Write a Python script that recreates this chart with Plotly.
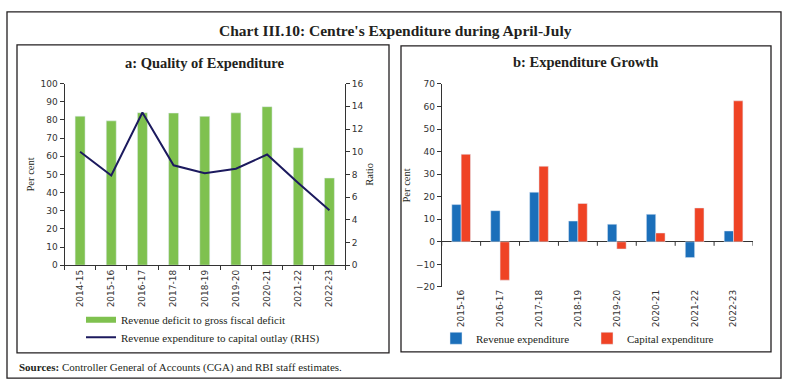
import plotly.graph_objects as go

W, H = 789, 391

# ---- data ----
years_a = ["2014-15", "2015-16", "2016-17", "2017-18", "2018-19",
           "2019-20", "2020-21", "2021-22", "2022-23"]
rev_def_to_gfd = [82.1, 79.5, 84.0, 83.8, 82.0, 83.9, 87.3, 64.7, 48.0]
rev_exp_to_cap = [10.0, 7.9, 13.45, 8.8, 8.1, 8.5, 9.75, 7.25, 4.85]

years_b = ["2015-16", "2016-17", "2017-18", "2018-19",
           "2019-20", "2020-21", "2021-22", "2022-23"]
rev_exp_growth = [16.5, 13.8, 22.0, 9.2, 7.8, 12.2, -7.0, 4.8]
cap_exp_growth = [38.8, -17.0, 33.5, 17.0, -3.2, 3.9, 15.0, 62.5]

GREEN = "#7fc14f"
NAVY = "#1c1a5e"
BLUE = "#1b6fba"
RED = "#ef4325"
INK = "#231f20"
TICKFONT = dict(family="DejaVu Sans", size=9, color="#333333")
SERIF = "Liberation Serif"


def px_x(p):
    return p / W


def px_y(p):
    return 1 - p / H


fig = go.Figure()

# panel a
fig.add_trace(go.Bar(x=years_a, y=rev_def_to_gfd, marker_color=GREEN,
                     width=0.32, xaxis="x", yaxis="y", showlegend=False,
                     name="Revenue deficit to gross fiscal deficit"))
fig.add_trace(go.Scatter(x=years_a, y=rev_exp_to_cap, mode="lines",
                         line=dict(color=NAVY, width=2), xaxis="x", yaxis="y2",
                         showlegend=False,
                         name="Revenue expenditure to capital outlay (RHS)"))
# legend proxies for panel a
fig.add_trace(go.Scatter(x=[None], y=[None], mode="lines",
                         line=dict(color=GREEN, width=6), xaxis="x", yaxis="y",
                         name="Revenue deficit to gross fiscal deficit",
                         legend="legend"))
fig.add_trace(go.Scatter(x=[None], y=[None], mode="lines",
                         line=dict(color=NAVY, width=2), xaxis="x", yaxis="y",
                         name="Revenue expenditure to capital outlay (RHS)",
                         legend="legend3"))

# panel b
fig.add_trace(go.Bar(x=years_b, y=rev_exp_growth, marker_color=BLUE,
                     width=0.24, offset=-0.24,
                     xaxis="x3", yaxis="y3", name="Revenue expenditure",
                     legend="legend2"))
fig.add_trace(go.Bar(x=years_b, y=cap_exp_growth, marker_color=RED,
                     width=0.24, offset=0.0,
                     xaxis="x3", yaxis="y3", name="Capital expenditure",
                     legend="legend2"))

shapes = []
# borders
for (x0, y0, x1, y1) in [(7, 7, 781, 383), (17, 41, 389, 357), (401, 42, 771, 356)]:
    shapes.append(dict(type="rect", xref="paper", yref="paper",
                       x0=px_x(x0), x1=px_x(x1), y0=px_y(y0), y1=px_y(y1),
                       line=dict(color=INK, width=1.3)))
# tick marks on the zero line of panel b
for i in range(len(years_b) + 1):
    shapes.append(dict(type="line", xref="x3", yref="y3",
                       x0=i - 0.5, x1=i - 0.5, y0=0, y1=-4,
                       ysizemode="pixel", yanchor=0,
                       line=dict(color="#333333", width=1)))

annotations = [
    dict(text="<b>Chart III.10: Centre's Expenditure during April-July</b>",
         x=px_x(396), y=px_y(26), xref="paper", yref="paper", showarrow=False,
         font=dict(family=SERIF, size=15.5, color=INK),
         xanchor="center", yanchor="middle"),
    dict(text="<b>a: Quality of Expenditure</b>",
         x=px_x(204), y=px_y(60), xref="paper", yref="paper", showarrow=False,
         font=dict(family=SERIF, size=14.5, color=INK),
         xanchor="center", yanchor="middle"),
    dict(text="<b>b: Expenditure Growth</b>",
         x=px_x(585), y=px_y(59), xref="paper", yref="paper", showarrow=False,
         font=dict(family=SERIF, size=14.5, color=INK),
         xanchor="center", yanchor="middle"),
    dict(text="<b>Sources:</b> Controller General of Accounts (CGA) and RBI staff estimates.",
         x=px_x(17), y=px_y(372), xref="paper", yref="paper", showarrow=False,
         font=dict(family=SERIF, size=11, color=INK),
         xanchor="left", yanchor="middle"),
]

axis_common = dict(showline=True, linecolor="#333333", linewidth=1,
                   showgrid=False, zeroline=False, ticks="outside", ticklen=4,
                   tickcolor="#333333", tickfont=TICKFONT)
title_font = dict(family=SERIF, size=10.5, color=INK)
legend_font = dict(family=SERIF, size=11, color=INK)

fig.update_layout(
    width=W, height=H, margin=dict(l=0, r=0, t=0, b=0),
    paper_bgcolor="white", plot_bgcolor="white",
    barmode="overlay",
    shapes=shapes, annotations=annotations,
    xaxis=dict(axis_common, domain=[px_x(64.5), px_x(345)], anchor="y",
               type="category", range=[-0.5, 8.5], tickson="boundaries",
               tickangle=-90),
    yaxis=dict(axis_common, domain=[px_y(267), px_y(80.7)], anchor="x",
               range=[0, 100], dtick=10,
               title=dict(text="Per cent", standoff=3, font=title_font)),
    yaxis2=dict(axis_common, overlaying="y", side="right", anchor="x",
                range=[0, 16], dtick=2,
                title=dict(text="Ratio", standoff=3, font=title_font)),
    xaxis3=dict(axis_common, domain=[px_x(441.7), px_x(753)], anchor="y3",
                type="category", range=[-0.5, 7.5], showline=False, ticks="",
                tickangle=-90),
    yaxis3=dict(axis_common, domain=[px_y(289.3), px_y(81)], anchor="x3",
                range=[-20, 70], dtick=10, zeroline=True,
                zerolinecolor="#333333", zerolinewidth=1,
                title=dict(text="Per cent", standoff=3, font=title_font)),
    legend=dict(x=px_x(81), y=px_y(323), xanchor="left", yanchor="middle",
                orientation="v", bgcolor="rgba(0,0,0,0)", font=legend_font,
                itemwidth=30),
    legend3=dict(x=px_x(81), y=px_y(341), xanchor="left", yanchor="middle",
                 orientation="v", bgcolor="rgba(0,0,0,0)", font=legend_font,
                 itemwidth=30),
    legend2=dict(x=px_x(436), y=px_y(342), xanchor="left", yanchor="middle",
                 orientation="h", bgcolor="rgba(0,0,0,0)", font=legend_font,
                 itemwidth=30, entrywidth=106),
)

fig.write_html("out.html", config={"displayModeBar": False},
               post_script="document.body.style.margin='0';")
